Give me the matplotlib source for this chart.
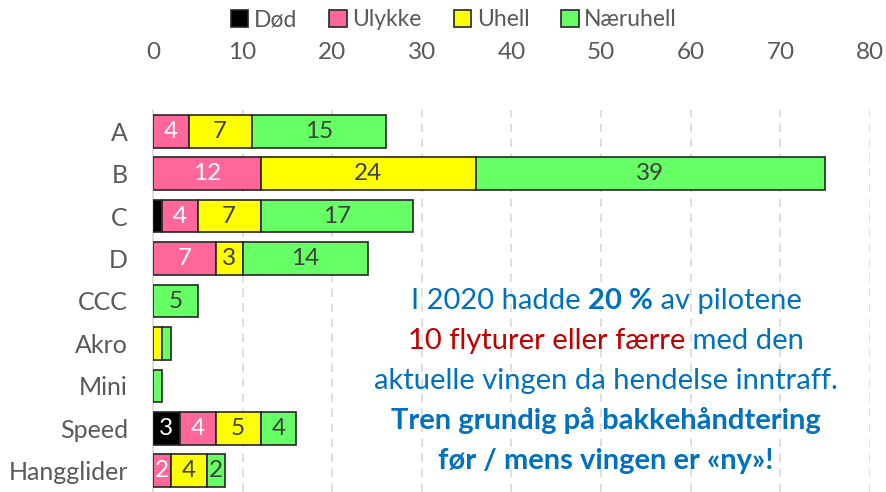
import matplotlib
matplotlib.use("Agg")
import matplotlib.pyplot as plt
import numpy as np
from matplotlib.offsetbox import TextArea, HPacker, VPacker, AnchoredOffsetbox
from matplotlib.patches import Patch

categories = ["A", "B", "C", "D", "CCC", "Akro", "Mini", "Speed", "Hangglider"]
series_names = ["Død", "Ulykke", "Uhell", "Næruhell"]
dod = [0, 0, 1, 0, 0, 0, 0, 3, 0]
ulykke = [4, 12, 4, 7, 0, 0, 0, 4, 2]
uhell = [7, 24, 7, 3, 0, 1, 0, 5, 4]
naeruhell = [15, 39, 17, 14, 5, 1, 1, 4, 2]
x_ticks = [0, 10, 20, 30, 40, 50, 60, 70, 80]

colors = ["#000000", "#FF6699", "#FFFF00", "#66FF66"]
label_colors = ["#FFFFFF", "#FFFFFF", "#404040", "#404040"]

FONT = "Lato"
plt.rcParams["font.family"] = [FONT, "DejaVu Sans"]

fig = plt.figure(figsize=(8.87, 4.92), dpi=100)
ax = fig.add_axes([153/887, 0, (870-153)/887, 1 - 110/492])

y = np.arange(len(categories))
left = np.zeros(len(categories))
for name, vals, c, lc in zip(series_names, [dod, ulykke, uhell, naeruhell], colors, label_colors):
    vals = np.array(vals, dtype=float)
    bars = ax.barh(y, vals, left=left, height=0.77, color=c, edgecolor="#262626",
                   linewidth=1.2, label=name, zorder=3)
    for yi, l, v in zip(y, left, vals):
        if v >= 2:
            ax.text(l + v/2, yi, f"{int(v)}", ha="center", va="center",
                    fontsize=17.5, color=lc, zorder=4)
    for b, v in zip(bars, vals):
        if v == 0:
            b.set_visible(False)
    left += vals

ax.set_xlim(0, 80)
ax.set_ylim(len(categories) - 0.5, -0.5)
ax.set_xticks(x_ticks)
ax.xaxis.tick_top()
ax.tick_params(axis="x", length=0, pad=34, labelsize=17.5, labelcolor="#595959")
ax.tick_params(axis="y", length=0, pad=18, labelsize=18, labelcolor="#595959")
ax.set_yticks(y)
ax.set_yticklabels(categories)
for s in ["top", "right", "bottom"]:
    ax.spines[s].set_visible(False)
ax.spines["left"].set_color("#d9d9d9")
ax.spines["left"].set_linewidth(1.2)
ax.grid(axis="x", color="#d9d9d9", linestyle=(0, (5, 4)), linewidth=1.2, zorder=0)
gl = ax.get_xgridlines()
gl[0].set_visible(False)

handles = [Patch(facecolor=c, edgecolor="#262626", linewidth=1.2) for c in colors]
fig.legend(handles, series_names, loc="center", bbox_to_anchor=(454/887, 1 - 20/492),
           ncol=4, frameon=False, fontsize=16.5, labelcolor="#595959",
           handlelength=0.75, handleheight=0.75, handletextpad=0.25, columnspacing=1.4)

blue = "#0070C0"
red = "#C00000"
fs = 21
def ta(s, color=blue, bold=False):
    return TextArea(s, textprops=dict(color=color, fontsize=fs,
                                      fontweight="bold" if bold else "normal", family=FONT))

line1 = HPacker(children=[ta("I 2020 hadde "), ta("20 %", bold=True), ta(" av pilotene")], pad=0, sep=0)
line2 = HPacker(children=[ta("10 flyturer eller færre", color=red), ta(" med den")], pad=0, sep=0)
line3 = HPacker(children=[ta("aktuelle vingen da hendelse inntraff.")], pad=0, sep=0)
line4 = HPacker(children=[ta("Tren grundig på bakkehåndtering", bold=True)], pad=0, sep=0)
line5 = HPacker(children=[ta("før / mens vingen er «ny»!", bold=True)], pad=0, sep=0)
vp = VPacker(children=[line1, line2, line3, line4, line5], align="center", pad=0, sep=10)
ab = AnchoredOffsetbox(loc="center", child=vp, frameon=False, pad=0, borderpad=0,
                       bbox_to_anchor=(606/887, 1 - 381/492), bbox_transform=fig.transFigure)
fig.add_artist(ab)

fig.savefig("out.png", dpi=100)
